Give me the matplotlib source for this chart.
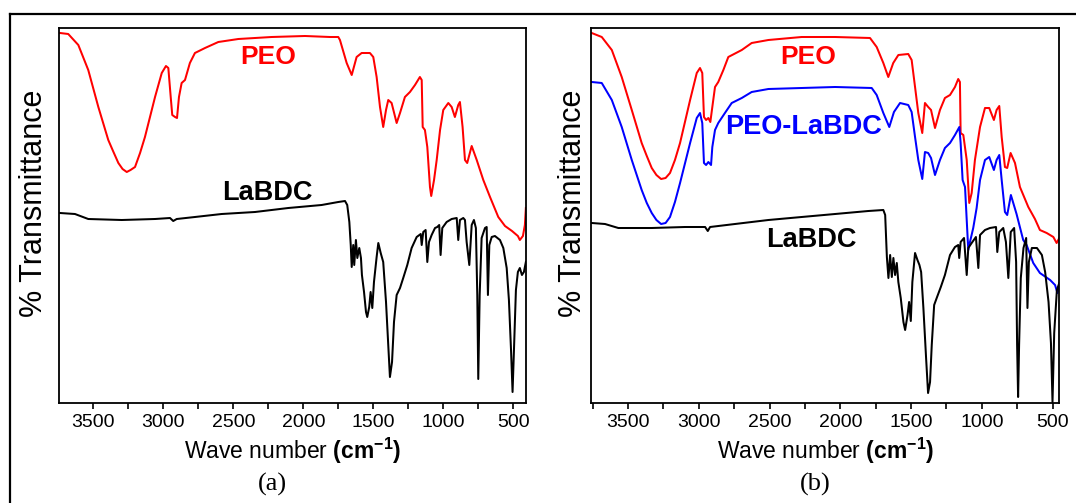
import matplotlib
matplotlib.use('Agg')
import matplotlib.pyplot as plt
from matplotlib.lines import Line2D
from matplotlib.ticker import MultipleLocator

# ---------------- data (wavenumber in cm^-1, transmittance in arbitrary units) ----------------
wn_peo_a = [3738, 3679, 3607, 3536, 3464, 3393, 3359, 3321, 3291, 3261, 3234, 3202, 3166, 3131, 3059,
            3011, 2981, 2964, 2947,
            2936, 2916, 2902, 2888, 2869, 2845, 2810, 2774, 2702, 2607, 2464, 2226, 1988, 1809, 1750,
            1738, 1690, 1654, 1619, 1583, 1524, 1500, 1476, 1452, 1429, 1409, 1393, 1369, 1333, 1309,
            1274, 1238, 1202, 1167, 1154, 1147, 1131, 1114, 1095, 1086, 1066, 1047, 1023, 1000, 964,
            940, 917, 893, 881, 862, 845, 829, 797, 761, 714, 666, 607, 559, 509, 467, 453, 431, 417, 410]
t_peo_a = [370, 369, 358, 333, 296, 263, 252, 240, 234, 231, 233, 236, 250, 266, 306,
           330, 337, 335, 306,
           288, 286, 285, 306, 320, 323, 340, 350, 355, 361, 364, 366, 367, 366, 366,
           363, 340, 328, 346, 350, 350, 346, 326, 296, 276, 293, 303, 300, 280, 290,
           306, 311, 318, 326, 323, 276, 273, 256, 216, 207, 223, 243, 273, 293, 300,
           296, 286, 298, 301, 276, 243, 240, 257, 243, 223, 206, 186, 177, 172, 167, 163, 167, 178, 195]

wn_labdc_a = [3738, 3631, 3536, 3297, 3059, 2952, 2929, 2904, 2774, 2583, 2345, 2107, 1869, 1750, 1702,
              1686, 1671, 1661, 1654, 1643, 1636, 1624, 1614, 1600, 1588, 1581, 1566, 1552, 1543, 1529,
              1519, 1507, 1495, 1476, 1464, 1447, 1429, 1409, 1393, 1381, 1366, 1352, 1333, 1309, 1286,
              1257, 1226, 1190, 1161, 1154, 1143, 1126, 1114, 1102, 1083, 1059, 1043, 1029, 1019, 1007,
              976, 940, 904, 893, 881, 857, 845, 833, 814, 797, 781, 767, 757, 750, 740,
              726, 702, 690, 681, 671, 654, 631, 595, 571, 547, 531, 516, 505, 495, 481,
              467, 453, 438, 424, 410]
t_labdc_a = [190, 189, 184, 183, 184, 185, 182, 184, 186, 189, 191, 195, 198, 201, 202,
             198, 181, 158, 136, 158, 138, 163, 145, 155, 145, 128, 111, 91, 86, 96,
             111, 95, 121, 146, 160, 150, 141, 101, 58, 26, 41, 81, 108, 115, 125,
             138, 155, 166, 169, 158, 171, 173, 141, 161, 168, 175, 176, 178, 148, 175,
             181, 184, 185, 163, 183, 185, 183, 161, 138, 178, 183, 175, 108, 24, 108,
             165, 175, 176, 108, 158, 166, 167, 163, 155, 135, 103, 53, 11, 53, 113,
             131, 135, 128, 131, 141]

wn_peo_b = [3756, 3685, 3614, 3544, 3473, 3403, 3367, 3332, 3299, 3266, 3234, 3203, 3168, 3132, 3061,
            3014, 2991, 2975, 2963,
            2948, 2932, 2918, 2904, 2885, 2862, 2826, 2791, 2696, 2626, 2508, 2273, 2037, 1790, 1743,
            1696, 1661, 1626, 1590, 1520, 1496, 1472, 1449, 1421, 1402, 1379, 1359, 1331, 1296, 1261,
            1225, 1190, 1167, 1155, 1150, 1131, 1107, 1089, 1072, 1049, 1013, 978, 948, 915, 896,
            877, 860, 837, 821, 797, 766, 731, 672, 625, 590, 542, 495, 472, 453]
t_peo_b = [370, 366, 353, 326, 293, 260, 247, 235, 228, 224, 225, 230, 243, 260, 303,
           330, 335, 330, 286,
           283, 285, 281, 296, 316, 321, 333, 346, 353, 360, 363, 366, 366, 365, 356,
           340, 326, 340, 348, 349, 343, 316, 290, 270, 300, 296, 293, 275, 293, 305,
           308, 316, 324, 321, 270, 268, 243, 200, 210, 243, 276, 295, 295, 283, 293,
           297, 266, 236, 235, 250, 240, 216, 196, 184, 173, 170, 166, 160, 165]

wn_blend_b = [3756, 3685, 3614, 3544, 3473, 3403, 3367, 3332, 3299, 3266, 3234, 3203, 3168, 3132, 3061,
              3014, 2991, 2975, 2963,
              2948, 2932, 2913, 2904, 2885, 2862, 2815, 2767, 2696, 2626, 2508, 2273, 2037, 1778, 1743,
              1696, 1654, 1621, 1578, 1520, 1496, 1472, 1449, 1421, 1402, 1379, 1359, 1331, 1296, 1261,
              1225, 1190, 1159, 1150, 1136, 1119, 1107, 1096, 1084, 1061, 1037, 1013, 978, 948, 915,
              896, 877, 860, 837, 821, 795, 755, 708, 684, 637, 590, 518, 483, 466, 453]
t_blend_b = [321, 320, 303, 276, 243, 213, 200, 190, 183, 179, 180, 186, 201, 220, 260,
             285, 290, 280, 240,
             238, 241, 238, 256, 273, 280, 290, 300, 305, 311, 314, 315, 316, 315, 308,
             290, 276, 291, 300, 298, 291, 266, 243, 224, 251, 250, 245, 228, 243, 255,
             260, 268, 276, 260, 223, 216, 183, 153, 161, 175, 195, 223, 243, 246, 233,
             243, 248, 223, 191, 188, 208, 189, 163, 158, 140, 130, 123, 118, 110, 116]

wn_labdc_b = [3756, 3662, 3568, 3332, 3097, 2955, 2936, 2920, 2744, 2508, 2273, 2037, 1802, 1696, 1683,
              1671, 1660, 1648, 1636, 1625, 1613, 1601, 1590, 1573, 1554, 1542, 1525, 1514, 1502, 1491,
              1472, 1455, 1441, 1429, 1413, 1394, 1380, 1366, 1354, 1337, 1319, 1290, 1261, 1225, 1190,
              1167, 1160, 1150, 1126, 1107, 1096, 1072, 1042, 1025, 1013, 978, 943, 900, 891, 877,
              849, 830, 813, 796, 772, 758, 751, 744, 737, 725, 706, 687, 678, 668, 647,
              611, 576, 553, 529, 512, 501, 489, 470, 453]
t_labdc_b = [180, 179, 175, 175, 176, 176, 172, 176, 179, 183, 186, 189, 192, 193, 188,
             146, 125, 148, 126, 145, 128, 140, 121, 105, 81, 73, 88, 101, 82, 121,
             150, 143, 138, 131, 95, 45, 10, 21, 58, 98, 105, 116, 128, 148, 156,
             158, 145, 161, 165, 128, 155, 160, 166, 135, 168, 173, 175, 176, 151, 171,
             175, 161, 125, 171, 175, 141, 58, 6, 58, 125, 155, 165, 95, 141, 155,
             155, 148, 131, 101, 60, 1, 70, 113, 120]

xticks = [3500, 3000, 2500, 2000, 1500, 1000, 500]
xtick_labels = ['3500', '3000', '2500', '2000', '1500', '1000', '500']
panel_labels = ['(a)', '(b)']

# ---------------- style ----------------
plt.rcParams['font.family'] = ['Liberation Sans', 'DejaVu Sans']
plt.rcParams['mathtext.fontset'] = 'custom'
plt.rcParams['mathtext.rm'] = 'Liberation Sans'
plt.rcParams['mathtext.bf'] = 'Liberation Sans:bold'
plt.rcParams['mathtext.it'] = 'Liberation Sans:italic'

W, H = 1076, 503
fig = plt.figure(figsize=(W / 100, H / 100), dpi=100)


def px_axes(l, r, t, b):
    return [l / W, 1 - b / H, (r - l) / W, (b - t) / H]


ax_a = fig.add_axes(px_axes(59, 526, 27.5, 403))
ax_b = fig.add_axes(px_axes(591, 1059.3, 28, 403))

LW = 1.45
ax_a.plot(wn_peo_a, t_peo_a, color='#ff0000', lw=LW)
ax_a.plot(wn_labdc_a, t_labdc_a, color='black', lw=LW)

ax_b.plot(wn_peo_b, t_peo_b, color='#ff0000', lw=LW)
ax_b.plot(wn_blend_b, t_blend_b, color='#0000ff', lw=LW)
ax_b.plot(wn_labdc_b, t_labdc_b, color='black', lw=LW)

ax_a.set_xlim(3745, 409)
ax_b.set_xlim(3761, 453)
ax_a.set_ylim(0, 375.5)
ax_b.set_ylim(0, 375)

for ax in (ax_a, ax_b):
    ax.set_xticks(xticks)
    ax.set_xticklabels(xtick_labels)
    ax.xaxis.set_minor_locator(MultipleLocator(250))
    ax.tick_params(axis='x', which='both', direction='out', length=4.5, width=1.2,
                   top=False, labelsize=14, pad=3.5, colors='black')
    ax.tick_params(axis='y', which='both', left=False, right=False, labelleft=False)
    for s in ax.spines.values():
        s.set_linewidth(1.3)

# curve labels
ax_a.text(2250, 345.5, 'PEO', color='#ff0000', fontsize=19, fontweight='bold', ha='center', va='center')
ax_a.text(2256, 210.5, 'LaBDC', color='black', fontsize=19.5, fontweight='bold', ha='center', va='center')
ax_b.text(2226, 345.5, 'PEO', color='#ff0000', fontsize=19, fontweight='bold', ha='center', va='center')
ax_b.text(2258, 276.3, 'PEO-LaBDC', color='#0000ff', fontsize=19.5, fontweight='bold', ha='center', va='center')
ax_b.text(2208, 163, 'LaBDC', color='black', fontsize=19.5, fontweight='bold', ha='center', va='center')

# axis labels
xlab = r'Wave number $\mathbf{(cm}^{\mathbf{-1}}\mathbf{)}$'
fig.text((59 + 526) / 2 / W, 1 - 458.5 / H, xlab, fontsize=16.5, ha='center', va='baseline')
fig.text((591 + 1059.3) / 2 / W, 1 - 458.5 / H, xlab, fontsize=16.5, ha='center', va='baseline')
fig.text(34.5 / W, 1 - 203 / H, '% Transmittance', fontsize=22, rotation=90, ha='center', va='center')
fig.text(573 / W, 1 - 203 / H, '% Transmittance', fontsize=22, rotation=90, ha='center', va='center')

# panel captions
fig.text(272 / W, 1 - 484 / H, panel_labels[0], fontsize=19, family='Liberation Serif', ha='center', va='center')
fig.text(815 / W, 1 - 484 / H, panel_labels[1], fontsize=19, family='Liberation Serif', ha='center', va='center')

# outer frame (top and left edges visible)
fig.add_artist(Line2D([10 / W, 1], [1 - 14 / H, 1 - 14 / H], transform=fig.transFigure, color='black', lw=1.6))
fig.add_artist(Line2D([10 / W, 10 / W], [0, 1 - 14 / H], transform=fig.transFigure, color='black', lw=1.6))

fig.savefig('out.png', dpi=100, facecolor='white')
